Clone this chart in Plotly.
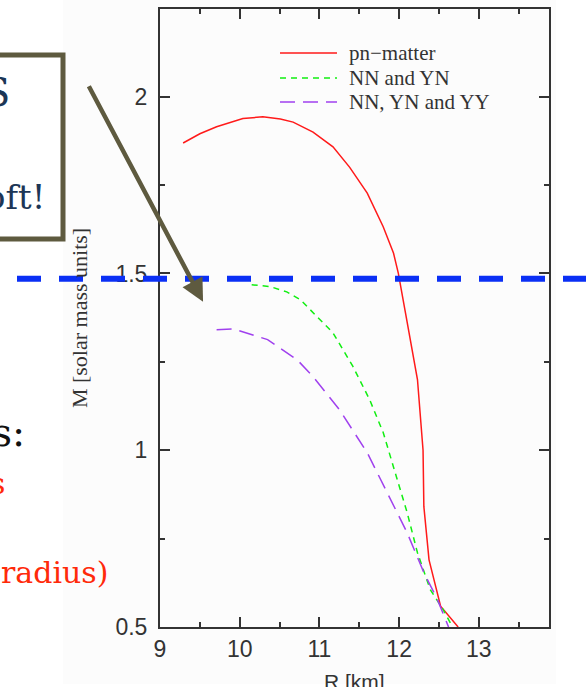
import plotly.graph_objects as go

# ---- data ----
R_pn = [9.29, 9.50, 9.71, 10.04, 10.29, 10.51, 10.67, 10.92, 11.17, 11.38, 11.60, 11.80,
        11.93, 11.99, 12.08, 12.23, 12.30, 12.31, 12.375, 12.52, 12.74]
M_pn = [1.869, 1.895, 1.915, 1.938, 1.943, 1.937, 1.928, 1.900, 1.858, 1.800, 1.727, 1.632,
        1.557, 1.500, 1.388, 1.200, 1.000, 0.841, 0.690, 0.559, 0.500]

R_nnyn = [10.15, 10.38, 10.59, 10.76, 11.17, 11.42, 11.63, 11.80, 11.95, 12.10, 12.23, 12.39, 12.55, 12.67]
M_nnyn = [1.468, 1.463, 1.448, 1.426, 1.332, 1.237, 1.143, 1.050, 0.937, 0.824, 0.710, 0.606, 0.550, 0.500]

R_yy = [9.71, 9.92, 10.35, 10.54, 10.72, 10.92, 11.25, 11.60, 11.85, 12.10, 12.31, 12.48, 12.62]
M_yy = [1.341, 1.343, 1.313, 1.284, 1.256, 1.208, 1.115, 0.993, 0.880, 0.767, 0.654, 0.578, 0.500]

names = ["pn\u2212matter", "NN and YN", "NN, YN and YY"]
colors = ["#ff1a1a", "#11ee11", "#a040ee"]
dashes = ["solid", "6px,5px", "15px,8px"]
x_ticks = [9, 10, 11, 12, 13]
y_ticks = [0.5, 1, 1.5, 2]
x_range = [9, 13.88]
y_range = [0.5, 2.248]
x_title = "R [km]"
y_title = "M [solar mass units]"
ref_mass = 1.485  # overlay dashed line (slide)

# ---- figure ----
W, H = 586, 687
L, Rm, T, B = 160, 37, 9, 60
pw, ph = W - L - Rm, H - T - B


def px(x):
    return (x - L) / pw


def py(y):
    return 1 - (y - T) / ph


fig = go.Figure()
for Rv, Mv, n, c, d in zip([R_pn, R_nnyn, R_yy], [M_pn, M_nnyn, M_yy], names, colors, dashes):
    fig.add_trace(go.Scatter(x=Rv, y=Mv, mode="lines", name=n, showlegend=False,
                             line=dict(color=c, width=1.5, dash=d)))

axis_common = dict(showline=True, linecolor="#333333", linewidth=2, mirror="allticks",
                   ticks="inside", ticklen=10, tickwidth=1.5, tickcolor="#333333",
                   showgrid=False, zeroline=False, automargin=False,
                   tickfont=dict(family="Liberation Sans, Arial", size=23, color="#333333"))

fig.update_xaxes(range=x_range, tickvals=x_ticks, ticklabelstandoff=0,
                 minor=dict(dtick=0.5, ticks="inside", ticklen=5, tickwidth=1.5, tickcolor="#333333"),
                 **axis_common)
fig.update_yaxes(range=y_range, tickvals=y_ticks, ticklabelstandoff=6,
                 minor=dict(dtick=0.25, ticks="inside", ticklen=5, tickwidth=1.5, tickcolor="#333333"),
                 title=dict(text=y_title,
                            font=dict(family="Liberation Serif, Times New Roman", size=22, color="#333333"),
                            standoff=22),
                 **axis_common)

shapes = [
    # faint background of the pasted chart image
    dict(type="rect", xref="paper", yref="paper", x0=px(63), x1=px(556), y0=py(684), y1=py(0),
         fillcolor="#fcfcfc", line=dict(width=0), layer="below"),
    # blue dashed reference line
    dict(type="line", xref="paper", yref="y", x0=px(17), x1=px(590), y0=ref_mass, y1=ref_mass,
         line=dict(color="#0a2ff5", width=6, dash="24px,18px"), layer="above"),
    # slide text box
    dict(type="rect", xref="paper", yref="paper", x0=px(-20), x1=px(63), y0=py(239), y1=py(55),
         line=dict(color="#5e5a3f", width=5), fillcolor="rgba(0,0,0,0)", layer="above"),
]

legend_rows = [53, 78, 102]
legend_font = dict(family="Liberation Serif, Times New Roman", size=21, color="#333333")
annotations = []
for n, c, d, ry in zip(names, colors, dashes, legend_rows):
    shapes.append(dict(type="line", xref="paper", yref="paper", x0=px(280), x1=px(337),
                       y0=py(ry), y1=py(ry), line=dict(color=c, width=1.5, dash=d)))
    annotations.append(dict(text=n, xref="paper", yref="paper", x=px(347), y=py(ry),
                            xanchor="left", yanchor="middle", showarrow=False, font=legend_font))

serif = "DejaVu Serif, Liberation Serif"
annotations += [
    # x-axis title (partly below the picture edge, as in the reference)
    dict(text=x_title, xref="paper", yref="paper", x=0.5, y=py(681), xanchor="center", yanchor="middle",
         showarrow=False, font=dict(family="Liberation Sans, Arial", size=21, color="#333333")),
    dict(text="S", xref="paper", yref="paper", x=px(12), y=py(92), xanchor="right", yanchor="middle",
         showarrow=False, font=dict(family=serif, size=40, color="#1c3656")),
    dict(text="oft!", xref="paper", yref="paper", x=px(47), y=py(197), xanchor="right", yanchor="middle",
         showarrow=False, font=dict(family=serif, size=34, color="#1c3656")),
    dict(text="s:", xref="paper", yref="paper", x=px(27), y=py(432), xanchor="right", yanchor="middle",
         showarrow=False, font=dict(family=serif, size=39, color="#111111")),
    dict(text="s", xref="paper", yref="paper", x=px(7), y=py(483), xanchor="right", yanchor="middle",
         showarrow=False, font=dict(family=serif, size=30, color="#ff2a0a")),
    dict(text="radius)", xref="paper", yref="paper", x=px(110), y=py(572), xanchor="right", yanchor="middle",
         showarrow=False, font=dict(family=serif, size=30, color="#ff2a0a")),
    # arrow
    dict(text="", x=9.54, y=1.42, xref="x", yref="y", showarrow=True, ax=-115, ay=-217,
         arrowhead=2, arrowsize=1, arrowwidth=4.5, arrowcolor="#5e5a3f"),
]

fig.update_layout(
    width=W, height=H,
    margin=dict(l=L, r=Rm, t=T, b=B),
    paper_bgcolor="white", plot_bgcolor="white",
    shapes=shapes, annotations=annotations,
    showlegend=False,
)

fig.write_html("out.html", config={"displayModeBar": False},
               post_script="document.body.style.margin='0';document.body.style.overflow='hidden';")
